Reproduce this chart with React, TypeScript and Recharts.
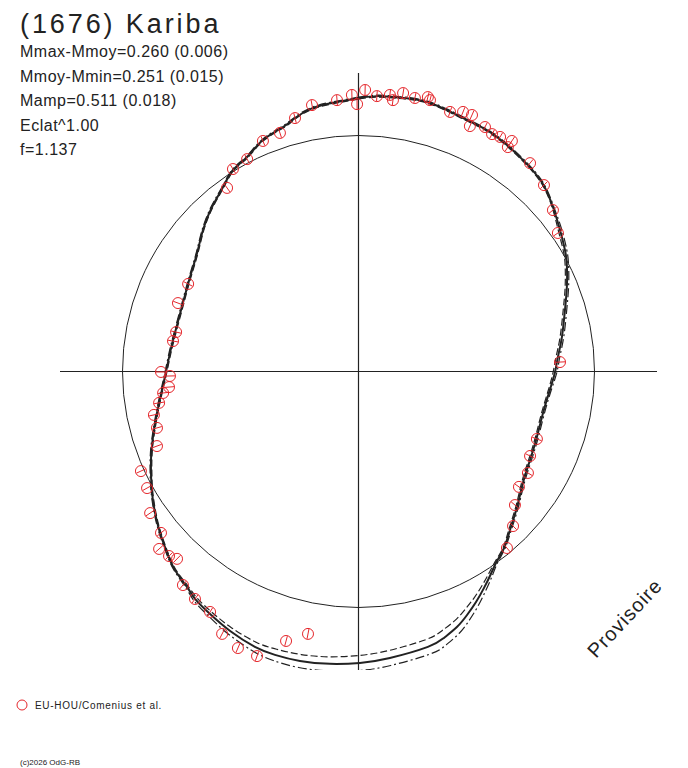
import { ScatterChart, Scatter, XAxis, YAxis, ReferenceLine, ReferenceDot } from "recharts";

// fitted light curve, polar plot in units of the mean-magnitude circle (x, y)
const fitCurve: [number, number][] = [
  [0.002, 1.159], [0.078, 1.167], [0.146, 1.163], [0.231, 1.155], [0.303, 1.138], [0.375, 1.108],
  [0.46, 1.066], [0.544, 1.023], [0.629, 0.96], [0.714, 0.879], [0.782, 0.794], [0.824, 0.697],
  [0.854, 0.6], [0.875, 0.515], [0.883, 0.451], [0.883, 0.358], [0.875, 0.261], [0.862, 0.146],
  [0.845, 0.061], [0.833, -0.002], [0.811, -0.078], [0.782, -0.176], [0.756, -0.278], [0.727, -0.375],
  [0.697, -0.472], [0.672, -0.574], [0.642, -0.672],
  [0.617, -0.748], [0.587, -0.803], [0.561, -0.858], [0.532, -0.917], [0.498, -0.977], [0.46, -1.032],
  [0.417, -1.083], [0.362, -1.129], [0.294, -1.167], [0.133, -1.214], [0.006, -1.235], [-0.121, -1.239],
  [-0.248, -1.227], [-0.354, -1.201], [-0.439, -1.167], [-0.544, -1.1], [-0.629, -1.028],
  [-0.689, -0.968], [-0.727, -0.913], [-0.778, -0.841], [-0.811, -0.769], [-0.841, -0.684], [-0.862, -0.6],
  [-0.875, -0.515], [-0.879, -0.447], [-0.879, -0.362], [-0.871, -0.278], [-0.854, -0.176], [-0.833, -0.078],
  [-0.816, -0.002], [-0.799, 0.078], [-0.778, 0.163], [-0.744, 0.29], [-0.714, 0.4], [-0.684, 0.502],
  [-0.659, 0.6], [-0.621, 0.697], [-0.574, 0.782], [-0.532, 0.854], [-0.472, 0.909], [-0.405, 0.981],
  [-0.32, 1.036], [-0.269, 1.074], [-0.193, 1.117], [-0.091, 1.142],
];

// half-width of the uncertainty envelope at each curve point
const fitSpread = [
  0.004, 0.004, 0.004, 0.004, 0.004, 0.004, 0.004, 0.004, 0.004, 0.004, 0.004, 0.004,
  0.008, 0.008, 0.008, 0.008, 0.008, 0.008, 0.008, 0.008,
  0.006, 0.006, 0.006, 0.006, 0.006, 0.006, 0.006,
  0.005, 0.006, 0.01, 0.014, 0.019, 0.024, 0.028, 0.031, 0.032, 0.032, 0.032, 0.03,
  0.028, 0.025, 0.02, 0.015, 0.011,
  0.009, 0.006,
  0.004, 0.004, 0.004, 0.004, 0.004, 0.004, 0.004, 0.004, 0.004, 0.004, 0.004, 0.004, 0.004,
  0.004, 0.004, 0.004, 0.004, 0.004, 0.004, 0.004, 0.004, 0.004, 0.004, 0.004, 0.004, 0.004,
];

// EU-HOU/Comenius observations
const observations: [number, number][] = [
  [-0.333, 1.011], [-0.269, 1.074], [-0.197, 1.129], [-0.091, 1.15], [-0.028, 1.172], [-0.006, 1.133],
  [0.028, 1.193], [0.078, 1.167], [0.133, 1.172], [0.146, 1.15], [0.189, 1.18], [0.239, 1.159],
  [0.294, 1.163], [0.303, 1.15], [0.388, 1.1], [0.443, 1.1], [0.481, 1.087], [0.472, 1.04],
  [0.536, 1.036], [0.566, 1.006], [0.6, 0.994], [0.65, 0.977], [0.633, 0.951], [0.727, 0.883],
  [0.786, 0.79], [0.824, 0.684], [0.845, 0.587], [0.854, 0.04],
  [0.756, -0.286], [0.727, -0.358], [0.718, -0.43], [0.68, -0.489], [0.663, -0.566], [0.655, -0.655],
  [0.629, -0.748],
  [-0.214, -1.112], [-0.307, -1.142], [-0.43, -1.206], [-0.511, -1.172], [-0.578, -1.112], [-0.629, -1.019],
  [-0.693, -0.964], [-0.744, -0.905],
  [-0.769, -0.794], [-0.803, -0.782], [-0.845, -0.752], [-0.837, -0.684], [-0.883, -0.6], [-0.896, -0.494],
  [-0.922, -0.422], [-0.854, -0.316], [-0.854, -0.239], [-0.867, -0.184], [-0.845, -0.133], [-0.828, -0.091],
  [-0.803, -0.066], [-0.799, -0.019], [-0.837, -0.002],
  [-0.786, 0.129], [-0.773, 0.167], [-0.765, 0.29], [-0.722, 0.371], [-0.557, 0.778], [-0.532, 0.858],
  [-0.472, 0.9], [-0.405, 0.977],
];

const statLines = [
  "Mmax-Mmoy=0.260 (0.006)",
  "Mmoy-Mmin=0.251 (0.015)",
  "Mamp=0.511 (0.018)",
  "Eclat^1.00",
  "f=1.137",
];

const RED = "#e5262b";
const INK = "#222";
const FONT = "'Liberation Sans', Arial, sans-serif";

const closed = (pts: { x: number; y: number }[]) => [...pts, pts[0]];

const fitData = closed(fitCurve.map(([x, y]) => ({ x, y })));

const envelope = (sign: number) =>
  closed(
    fitCurve.map(([x, y], i) => {
      const r = Math.hypot(x, y);
      const k = 1 + (sign * fitSpread[i]) / r;
      return { x: x * k, y: y * k };
    })
  );

const innerData = envelope(-1);
const outerData = envelope(1);
const obsData = observations.map(([x, y]) => ({ x, y }));

const NoDot = () => <g />;

const ObsDot = (props: any) => {
  const { cx, cy, payload } = props;
  if (cx == null || cy == null) return <g />;
  const a = Math.atan2(payload.y, payload.x);
  const dx = Math.cos(a) * 5;
  const dy = -Math.sin(a) * 5;
  return (
    <g>
      <circle cx={cx} cy={cy} r={5.5} fill="none" stroke={RED} strokeWidth={1} />
      <line x1={cx - dx} y1={cy - dy} x2={cx + dx} y2={cy + dy} stroke={RED} strokeWidth={1} />
    </g>
  );
};

const DOMAIN: [number, number] = [-1.265, 1.265];

export default function App() {
  return (
    <div style={{ position: "absolute", left: 0, top: 0, width: 688, height: 768, background: "#fff" }}>
      <ScatterChart width={688} height={768} margin={{ top: 73, right: 31, bottom: 98, left: 60 }}>
        <XAxis type="number" dataKey="x" domain={DOMAIN} allowDataOverflow hide />
        <YAxis type="number" dataKey="y" domain={DOMAIN} allowDataOverflow hide />
        <ReferenceLine x={0} stroke={INK} strokeWidth={1.2} />
        <ReferenceLine y={0} stroke={INK} strokeWidth={1.2} />
        <ReferenceDot x={0} y={0} r={236} fill="none" stroke={INK} strokeWidth={1} ifOverflow="visible" />
        <Scatter
          data={outerData}
          shape={NoDot}
          lineJointType="natural"
          line={{ stroke: INK, strokeWidth: 1.2, strokeDasharray: "9 3 2 3" }}
          isAnimationActive={false}
        />
        <Scatter
          data={innerData}
          shape={NoDot}
          lineJointType="natural"
          line={{ stroke: INK, strokeWidth: 1.2, strokeDasharray: "7 3" }}
          isAnimationActive={false}
        />
        <Scatter
          data={fitData}
          shape={NoDot}
          lineJointType="natural"
          line={{ stroke: INK, strokeWidth: 2 }}
          isAnimationActive={false}
        />
        <Scatter data={obsData} shape={ObsDot} isAnimationActive={false} />
      </ScatterChart>
      <svg
        width={688}
        height={768}
        style={{ position: "absolute", left: 0, top: 0, pointerEvents: "none" }}
        fontFamily={FONT}
      >
        <text x={20} y={33} fontSize={27} fill={INK} letterSpacing={2.9}>
          (1676) Kariba
        </text>
        {statLines.map((s, i) => (
          <text key={s} x={20} y={57 + i * 24.6} fontSize={16} fill={INK} letterSpacing={0.5}>
            {s}
          </text>
        ))}
        <circle cx={22} cy={705} r={5} fill="none" stroke={RED} strokeWidth={1} />
        <text x={35} y={709} fontSize={10} fill={INK} letterSpacing={0.7}>
          EU-HOU/Comenius et al.
        </text>
        <text x={20} y={765} fontSize={8} fill={INK}>
          (c)2026 OdG-RB
        </text>
        <text x={596} y={659} fontSize={20} fill={INK} letterSpacing={1} transform="rotate(-47 596 659)">
          Provisoire
        </text>
      </svg>
    </div>
  );
}
